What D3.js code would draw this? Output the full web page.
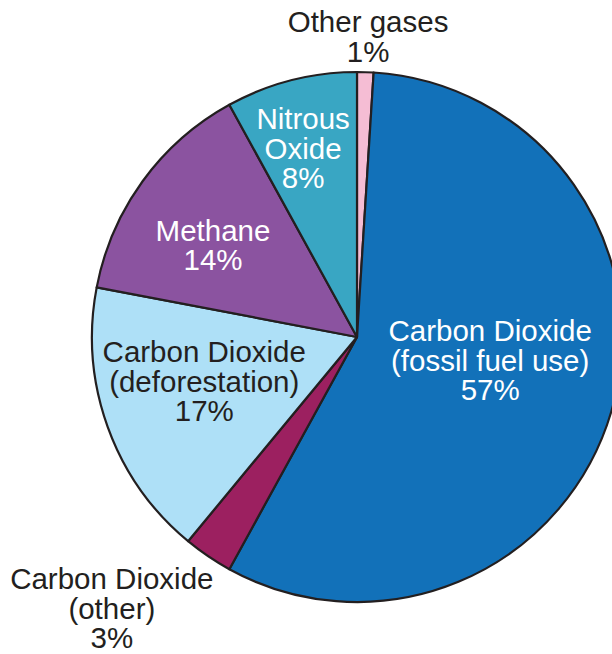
<!DOCTYPE html>
<html>
<head>
<meta charset="utf-8">
<script src="https://cdn.jsdelivr.net/npm/d3@7"></script>
<style>
  body { margin: 0; background: #fff; }
  svg { display: block; }
  text { font-family: "Liberation Sans", Arial, Helvetica, sans-serif; }
</style>
</head>
<body>
<div id="chart"></div>
<script>
// slices, clockwise from 12 o'clock
const names = ["Other gases", "CO2 fossil", "CO2 other", "CO2 deforestation", "Methane", "Nitrous Oxide"];
const shares = [1, 57, 3, 17, 14, 8];
const labels = [
    ["Other gases", "1%"],
    ["Carbon Dioxide", "(fossil fuel use)", "57%"],
    ["Carbon Dioxide", "(other)", "3%"],
    ["Carbon Dioxide", "(deforestation)", "17%"],
    ["Methane", "14%"],
    ["Nitrous", "Oxide", "8%"]
];
const colors = ["#f5bdd4", "#1271b9", "#9c2060", "#aee0f7", "#8b53a0", "#39a6c3"];
const textColors = ["#231f20", "#fff", "#231f20", "#231f20", "#fff", "#fff"];

const width = 612, height = 654;
const cx = 357, cy = 337, radius = 265;
const fontSize = 29.5, lineH = 29.5;

// where each label sits: angle (deg, clockwise from top) and distance as a fraction of radius
const labelAt = [
    { a: 2.1, k: 1.136 },
    { a: 99.8, k: 0.51 },
    { a: 222.1, k: 1.38 },
    { a: 253.9, k: 0.6 },
    { a: 302.6, k: 0.645 },
    { a: 344.1, k: 0.742 }
];

const svg = d3.select("#chart")
    .append("svg")
    .attr("width", width)
    .attr("height", height);

const g = svg.append("g")
    .attr("transform", `translate(${cx},${cy})`);

const pie = d3.pie().sort(null).value(d => d)(shares);
const arc = d3.arc().innerRadius(0).outerRadius(radius);

g.selectAll("path")
    .data(pie)
    .enter()
    .append("path")
    .attr("d", arc)
    .attr("fill", (d, i) => colors[i])
    .attr("stroke", "#231f20")
    .attr("stroke-width", 2.2)
    .attr("stroke-linejoin", "round");

labels.forEach((lines, i) => {
    const ang = labelAt[i].a * Math.PI / 180;
    const r = radius * labelAt[i].k;
    const x = r * Math.sin(ang);
    const y = -r * Math.cos(ang);
    // block middle -> first baseline
    const top = y - (lines.length - 1) * lineH / 2 + fontSize * 0.36;
    const t = g.append("text")
        .attr("text-anchor", "middle")
        .attr("font-size", fontSize)
        .attr("fill", textColors[i]);
    lines.forEach((s, j) => {
        t.append("tspan")
            .attr("x", x)
            .attr("y", top + j * lineH)
            .text(s);
    });
});
</script>
</body>
</html>
